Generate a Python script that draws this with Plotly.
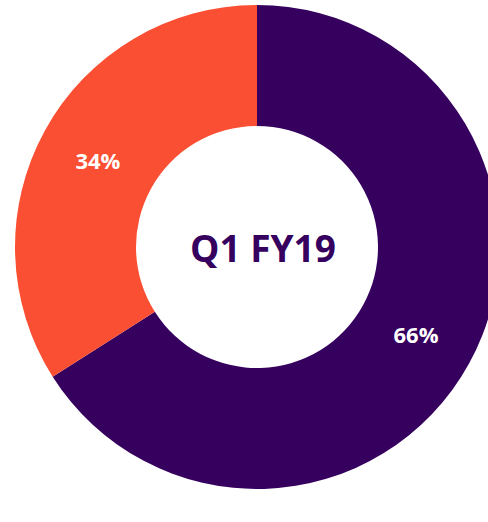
import plotly.graph_objects as go

labels = ["Segment A", "Segment B"]
values = [66, 34]
text_labels = ["66%", "34%"]
colors = ["#36005F", "#FB4F33"]
center_title = "Q1 FY19"

fig = go.Figure(
    go.Pie(
        labels=labels,
        values=values,
        text=text_labels,
        textinfo="text",
        textposition="inside",
        insidetextorientation="horizontal",
        hole=0.5,
        sort=False,
        direction="clockwise",
        rotation=0,
        marker=dict(colors=colors, line=dict(width=0)),
        textfont=dict(family="Open Sans", size=22, color="white", weight="bold"),
        hoverinfo="label+percent",
        showlegend=False,
    )
)

fig.update_layout(
    width=499,
    height=522,
    margin=dict(l=15, r=0, t=5, b=33),
    paper_bgcolor="white",
    annotations=[
        dict(
            text=center_title,
            x=0.5, y=0.5, xref="paper", yref="paper",
            xshift=6,
            showarrow=False,
            font=dict(family="Open Sans", size=37, color="#36005F", weight="bold"),
        )
    ],
)

fig.write_html(
    "out.html",
    config={"displayModeBar": False},
    post_script="document.body.style.margin='0';document.body.style.overflow='hidden';document.documentElement.style.overflow='hidden';",
)
